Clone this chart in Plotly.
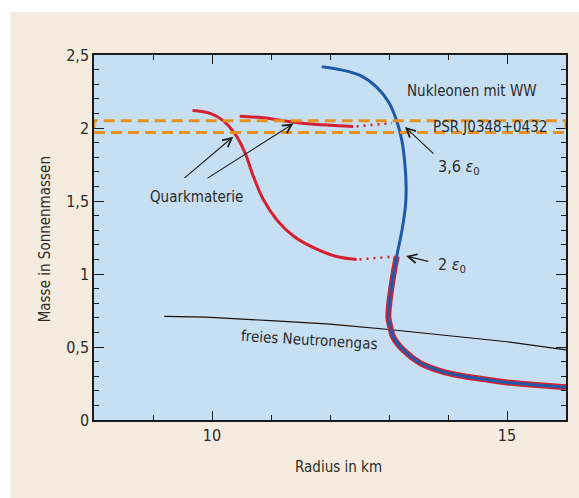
import plotly.graph_objects as go

# ---------------- data ----------------
# Nucleon EOS with interactions (blue): radius (km), mass (solar masses)
nuc_r = [11.86, 12.17, 12.51, 12.79, 12.99, 13.13, 13.22, 13.27, 13.29, 13.28, 13.22, 13.13,
         13.06, 13.00, 12.99, 13.02, 13.07, 13.24, 13.53, 13.92, 14.20, 14.60, 15.00, 15.50, 16.00]
nuc_m = [2.42, 2.40, 2.36, 2.28, 2.18, 2.05, 1.91, 1.75, 1.60, 1.47, 1.30, 1.12,
         0.96, 0.78, 0.70, 0.64, 0.57, 0.48, 0.39, 0.33, 0.305, 0.28, 0.257, 0.24, 0.224]

# part of the hybrid (red) branch that coincides with the nucleon branch
hyb_r = [13.13, 13.06, 13.00, 12.99, 13.02, 13.07, 13.24, 13.53, 13.92, 14.20, 14.60, 15.00, 15.50, 16.00]
hyb_m = [1.12, 0.96, 0.78, 0.70, 0.64, 0.57, 0.48, 0.39, 0.33, 0.305, 0.28, 0.257, 0.24, 0.224]

# quark matter branch A (transition at 2 eps0)
qa_r = [9.67, 9.97, 10.19, 10.39, 10.56, 10.70, 10.87, 11.10, 11.38, 11.72, 12.11, 12.45]
qa_m = [2.12, 2.10, 2.05, 1.96, 1.83, 1.67, 1.51, 1.37, 1.26, 1.18, 1.12, 1.10]
qa_dot_r = [12.50, 13.10]
qa_dot_m = [1.10, 1.12]

# quark matter branch B (transition at 3.6 eps0)
qb_r = [10.47, 10.87, 11.38, 11.94, 12.39]
qb_m = [2.08, 2.07, 2.04, 2.02, 2.01]
qb_dot_r = [12.45, 13.05]
qb_dot_m = [2.01, 2.035]

# free neutron gas (black)
ng_r = [9.19, 9.90, 11.00, 12.00, 13.00, 14.00, 15.00, 16.00]
ng_m = [0.71, 0.705, 0.68, 0.657, 0.62, 0.58, 0.536, 0.48]

# PSR J0348+0432 mass band
psr_band = [1.97, 2.05]

x_range = [8, 16]
y_range = [0, 2.5]

# ---------------- styles ----------------
FONT = "Liberation Sans Narrow, DejaVu Sans Condensed, Arial Narrow, sans-serif"
TXT = "#2b2b2b"
BLUE = "#1f5aa8"
RED = "#d42030"
ORANGE = "#e8921e"
BEIGE = "#f5ecdf"
LIGHTBLUE = "#c7dff2"

fig = go.Figure()

fig.add_trace(go.Scatter(x=ng_r, y=ng_m, mode="lines", line=dict(color="#111111", width=1.2),
                         hoverinfo="skip", showlegend=False))
fig.add_trace(go.Scatter(x=hyb_r, y=hyb_m, mode="lines", line=dict(color=RED, width=6, shape="spline"),
                         hoverinfo="skip", showlegend=False))
fig.add_trace(go.Scatter(x=nuc_r, y=nuc_m, mode="lines", line=dict(color=BLUE, width=3, shape="spline"),
                         hoverinfo="skip", showlegend=False))
fig.add_trace(go.Scatter(x=qa_r, y=qa_m, mode="lines", line=dict(color=RED, width=3, shape="spline"),
                         hoverinfo="skip", showlegend=False))
fig.add_trace(go.Scatter(x=qa_dot_r, y=qa_dot_m, mode="lines",
                         line=dict(color=RED, width=2.5, dash="2px,5px"),
                         hoverinfo="skip", showlegend=False))
fig.add_trace(go.Scatter(x=qb_r, y=qb_m, mode="lines", line=dict(color=RED, width=3, shape="spline"),
                         hoverinfo="skip", showlegend=False))
fig.add_trace(go.Scatter(x=qb_dot_r, y=qb_dot_m, mode="lines",
                         line=dict(color=RED, width=2.5, dash="2px,5px"),
                         hoverinfo="skip", showlegend=False))

shapes = [
    # white strips outside the beige panel (left and top)
    dict(type="rect", xref="paper", yref="paper", x0=-0.25, x1=-0.177, y0=-0.3, y1=1.3,
         fillcolor="white", line=dict(width=0), layer="above"),
    dict(type="rect", xref="paper", yref="paper", x0=-0.25, x1=1.1, y0=1.118, y1=1.3,
         fillcolor="white", line=dict(width=0), layer="above"),
    # PSR band
    dict(type="rect", xref="x", yref="y", x0=x_range[0], x1=x_range[1], y0=psr_band[0], y1=psr_band[1],
         line=dict(color=ORANGE, width=3, dash="11px,6px"), fillcolor="rgba(0,0,0,0)", layer="above"),
]

ann = []
def txt(x, y, s, xanchor="center", size=15, angle=0):
    ann.append(dict(x=x, y=y, xref="x", yref="y", text=s, showarrow=False, xanchor=xanchor,
                    yanchor="middle", textangle=angle, font=dict(family=FONT, size=size, color=TXT)))

def arrow(x_head, y_head, x_tail, y_tail):
    ann.append(dict(x=x_head, y=y_head, ax=x_tail, ay=y_tail, xref="x", yref="y", axref="x", ayref="y",
                    text="", showarrow=True, arrowhead=5, arrowsize=1.6, arrowwidth=1.1,
                    arrowcolor="#1a1a1a", standoff=0, startstandoff=0))

txt(14.40, 2.255, "Nukleonen mit WW")
txt(14.71, 2.005, "PSR J0348+0432")
txt(13.80, 1.73, "3,6 <i>ε</i><sub>0</sub>", xanchor="left", size=16)
txt(13.79, 1.06, "2 <i>ε</i><sub>0</sub>", xanchor="left", size=16)
txt(9.74, 1.53, "Quarkmaterie")
txt(11.66, 0.55, "freies Neutronengas", angle=3.5)

arrow(13.27, 2.007, 13.78, 1.815)
arrow(13.29, 1.123, 13.69, 1.084)
arrow(10.36, 1.94, 9.51, 1.65)
arrow(11.38, 2.03, 9.90, 1.65)

ann.append(dict(x=0.517, y=-0.129, xref="paper", yref="paper", text="Radius in km", showarrow=False,
                xanchor="center", yanchor="middle", font=dict(family=FONT, size=15, color=TXT)))
ann.append(dict(x=-0.103, y=0.496, xref="paper", yref="paper", text="Masse in Sonnenmassen",
                showarrow=False, textangle=-90, xanchor="center", yanchor="middle",
                font=dict(family=FONT, size=15, color=TXT)))

axis_common = dict(showgrid=False, zeroline=False, showline=True, linecolor="#1a1a1a", linewidth=1.5,
                   mirror="allticks", ticks="inside", tickwidth=1.4, tickcolor="#1a1a1a",
                   tickfont=dict(family=FONT, size=16, color=TXT))

fig.update_layout(
    width=579, height=498,
    margin=dict(l=94, r=11, t=55, b=78),
    paper_bgcolor=BEIGE,
    plot_bgcolor=LIGHTBLUE,
    separators=", ",
    showlegend=False,
    shapes=shapes,
    annotations=ann,
    xaxis=dict(range=x_range, dtick=5, tick0=0, ticklen=9,
               minor=dict(dtick=1, ticklen=5, ticks="inside", tickcolor="#1a1a1a", tickwidth=1.2),
               **axis_common),
    yaxis=dict(range=y_range, dtick=0.5, tick0=0, ticklen=10,
               minor=dict(dtick=0.1, ticklen=5, ticks="inside", tickcolor="#1a1a1a", tickwidth=1.2),
               **axis_common),
)

fig.write_html("out.html", config={"displayModeBar": False},
               post_script="document.body.style.margin='0';document.body.style.padding='0';")
